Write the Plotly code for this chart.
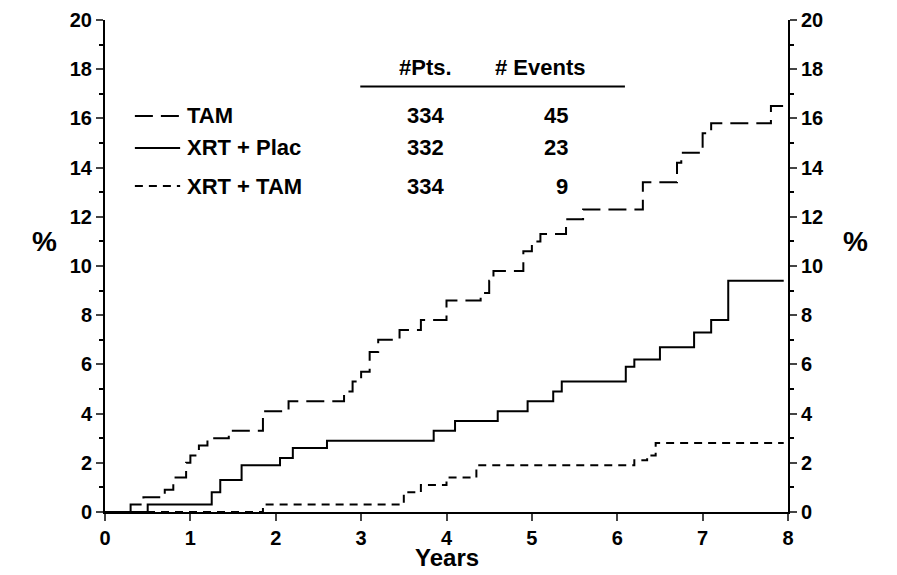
import plotly.graph_objects as go

# step curves: (year, cumulative %)
tam_x = [0, 0.3, 0.45, 0.7, 0.8, 0.95, 1.0, 1.1, 1.2, 1.45, 1.85, 2.15, 2.8, 2.9, 3.0, 3.1, 3.2, 3.45, 3.7,
         4.0, 4.4, 4.5, 4.55, 4.9, 5.0, 5.1, 5.4, 5.6, 6.3, 6.7, 6.75, 7.0, 7.1, 7.8, 7.95]
tam_y = [0, 0.3, 0.6, 0.9, 1.4, 2.0, 2.3, 2.7, 3.0, 3.3, 4.1, 4.5, 4.9, 5.3, 5.7, 6.5, 7.0, 7.4, 7.8,
         8.6, 8.9, 9.4, 9.8, 10.6, 11.0, 11.3, 11.9, 12.3, 13.4, 14.2, 14.6, 15.4, 15.8, 16.5, 16.5]
plac_x = [0, 0.5, 1.25, 1.35, 1.6, 2.05, 2.2, 2.6, 3.85, 4.1, 4.6, 4.95, 5.25, 5.35, 6.1, 6.2, 6.5,
          6.9, 7.1, 7.3, 7.95]
plac_y = [0, 0.3, 0.8, 1.3, 1.9, 2.2, 2.6, 2.9, 3.3, 3.7, 4.1, 4.5, 4.9, 5.3, 5.9, 6.2, 6.7,
          7.3, 7.8, 9.4, 9.4]
xt_x = [0, 1.85, 3.5, 3.7, 4.0, 4.35, 6.2, 6.35, 6.45, 7.95]
xt_y = [0, 0.3, 0.8, 1.1, 1.4, 1.9, 2.1, 2.3, 2.8, 2.8]

groups = ["TAM", "XRT + Plac", "XRT + TAM"]
pts = [334, 332, 334]
events = [45, 23, 9]
dashes = ["18px,8px", "solid", "8px,6px"]

FONT = "Liberation Sans, Arial"
fig = go.Figure()
for x, y, d in [(tam_x, tam_y, dashes[0]), (plac_x, plac_y, dashes[1]), (xt_x, xt_y, dashes[2])]:
    fig.add_trace(go.Scatter(x=x, y=y, mode="lines", line=dict(shape="hv", color="black", width=2, dash=d),
                             showlegend=False))
fig.add_trace(go.Scatter(x=[0, 8], y=[0, 20], yaxis="y2", mode="markers", marker=dict(opacity=0),
                         showlegend=False, hoverinfo="skip"))

f = dict(family=FONT, size=22, color="black")
row_y = [16.1, 14.8, 13.25]
for g, p, e, d, ry in zip(groups, pts, events, dashes, row_y):
    fig.add_shape(type="line", x0=0.35, x1=0.88, y0=ry, y1=ry, line=dict(color="black", width=2, dash=d))
    fig.add_annotation(x=0.94, y=ry, text="<b>%s</b>" % g, showarrow=False, xanchor="left", font=f)
    fig.add_annotation(x=3.75, y=ry, text="<b>%d</b>" % p, showarrow=False, font=f)
    fig.add_annotation(x=5.45, y=ry, text="<b>%d</b>" % e, showarrow=False, xanchor="right", font=f)
fig.add_annotation(x=3.75, y=18.05, text="<b>#Pts.</b>", showarrow=False, font=f)
fig.add_annotation(x=5.1, y=18.05, text="<b># Events</b>", showarrow=False, font=f)
fig.add_shape(type="line", x0=2.99, x1=6.09, y0=17.3, y1=17.3, line=dict(color="black", width=2))

ax = dict(showgrid=False, zeroline=False, showline=True, linecolor="black", linewidth=2, automargin=False,
          ticks="outside", ticklen=7, tickwidth=2, tickfont=dict(family=FONT, size=20, color="black"),
          minor=dict(ticks="outside", ticklen=4, tickwidth=1.5, tickcolor="black", dtick=1))
fig.update_layout(
    width=897, height=575, plot_bgcolor="white", paper_bgcolor="white",
    margin=dict(l=97, r=117, t=12, b=71),
    xaxis=dict(ax, range=[0, 8], dtick=1, tickprefix="<b>", ticksuffix="</b>", minor=dict(ticks="")),
    yaxis=dict(ax, range=[0, 20], dtick=2, tickprefix="<b>", ticksuffix="</b>"),
    yaxis2=dict(ax, range=[0, 20], dtick=2, overlaying="y", side="right", tickprefix="<b>", ticksuffix="</b>"),
)
fig.add_annotation(xref="paper", yref="paper", x=0.5, y=0, yanchor="top", yshift=-30, text="<b>Years</b>",
                   showarrow=False, font=dict(family=FONT, size=24, color="black"))
fig.add_annotation(xref="paper", yref="y", x=-0.11, y=11.0, text="<b>%</b>", showarrow=False,
                   font=dict(family=FONT, size=28, color="black"))
fig.add_annotation(xref="paper", yref="y", x=1.12, y=11.0, text="<b>%</b>", showarrow=False,
                   font=dict(family=FONT, size=28, color="black"))
fig.write_html("out.html")
